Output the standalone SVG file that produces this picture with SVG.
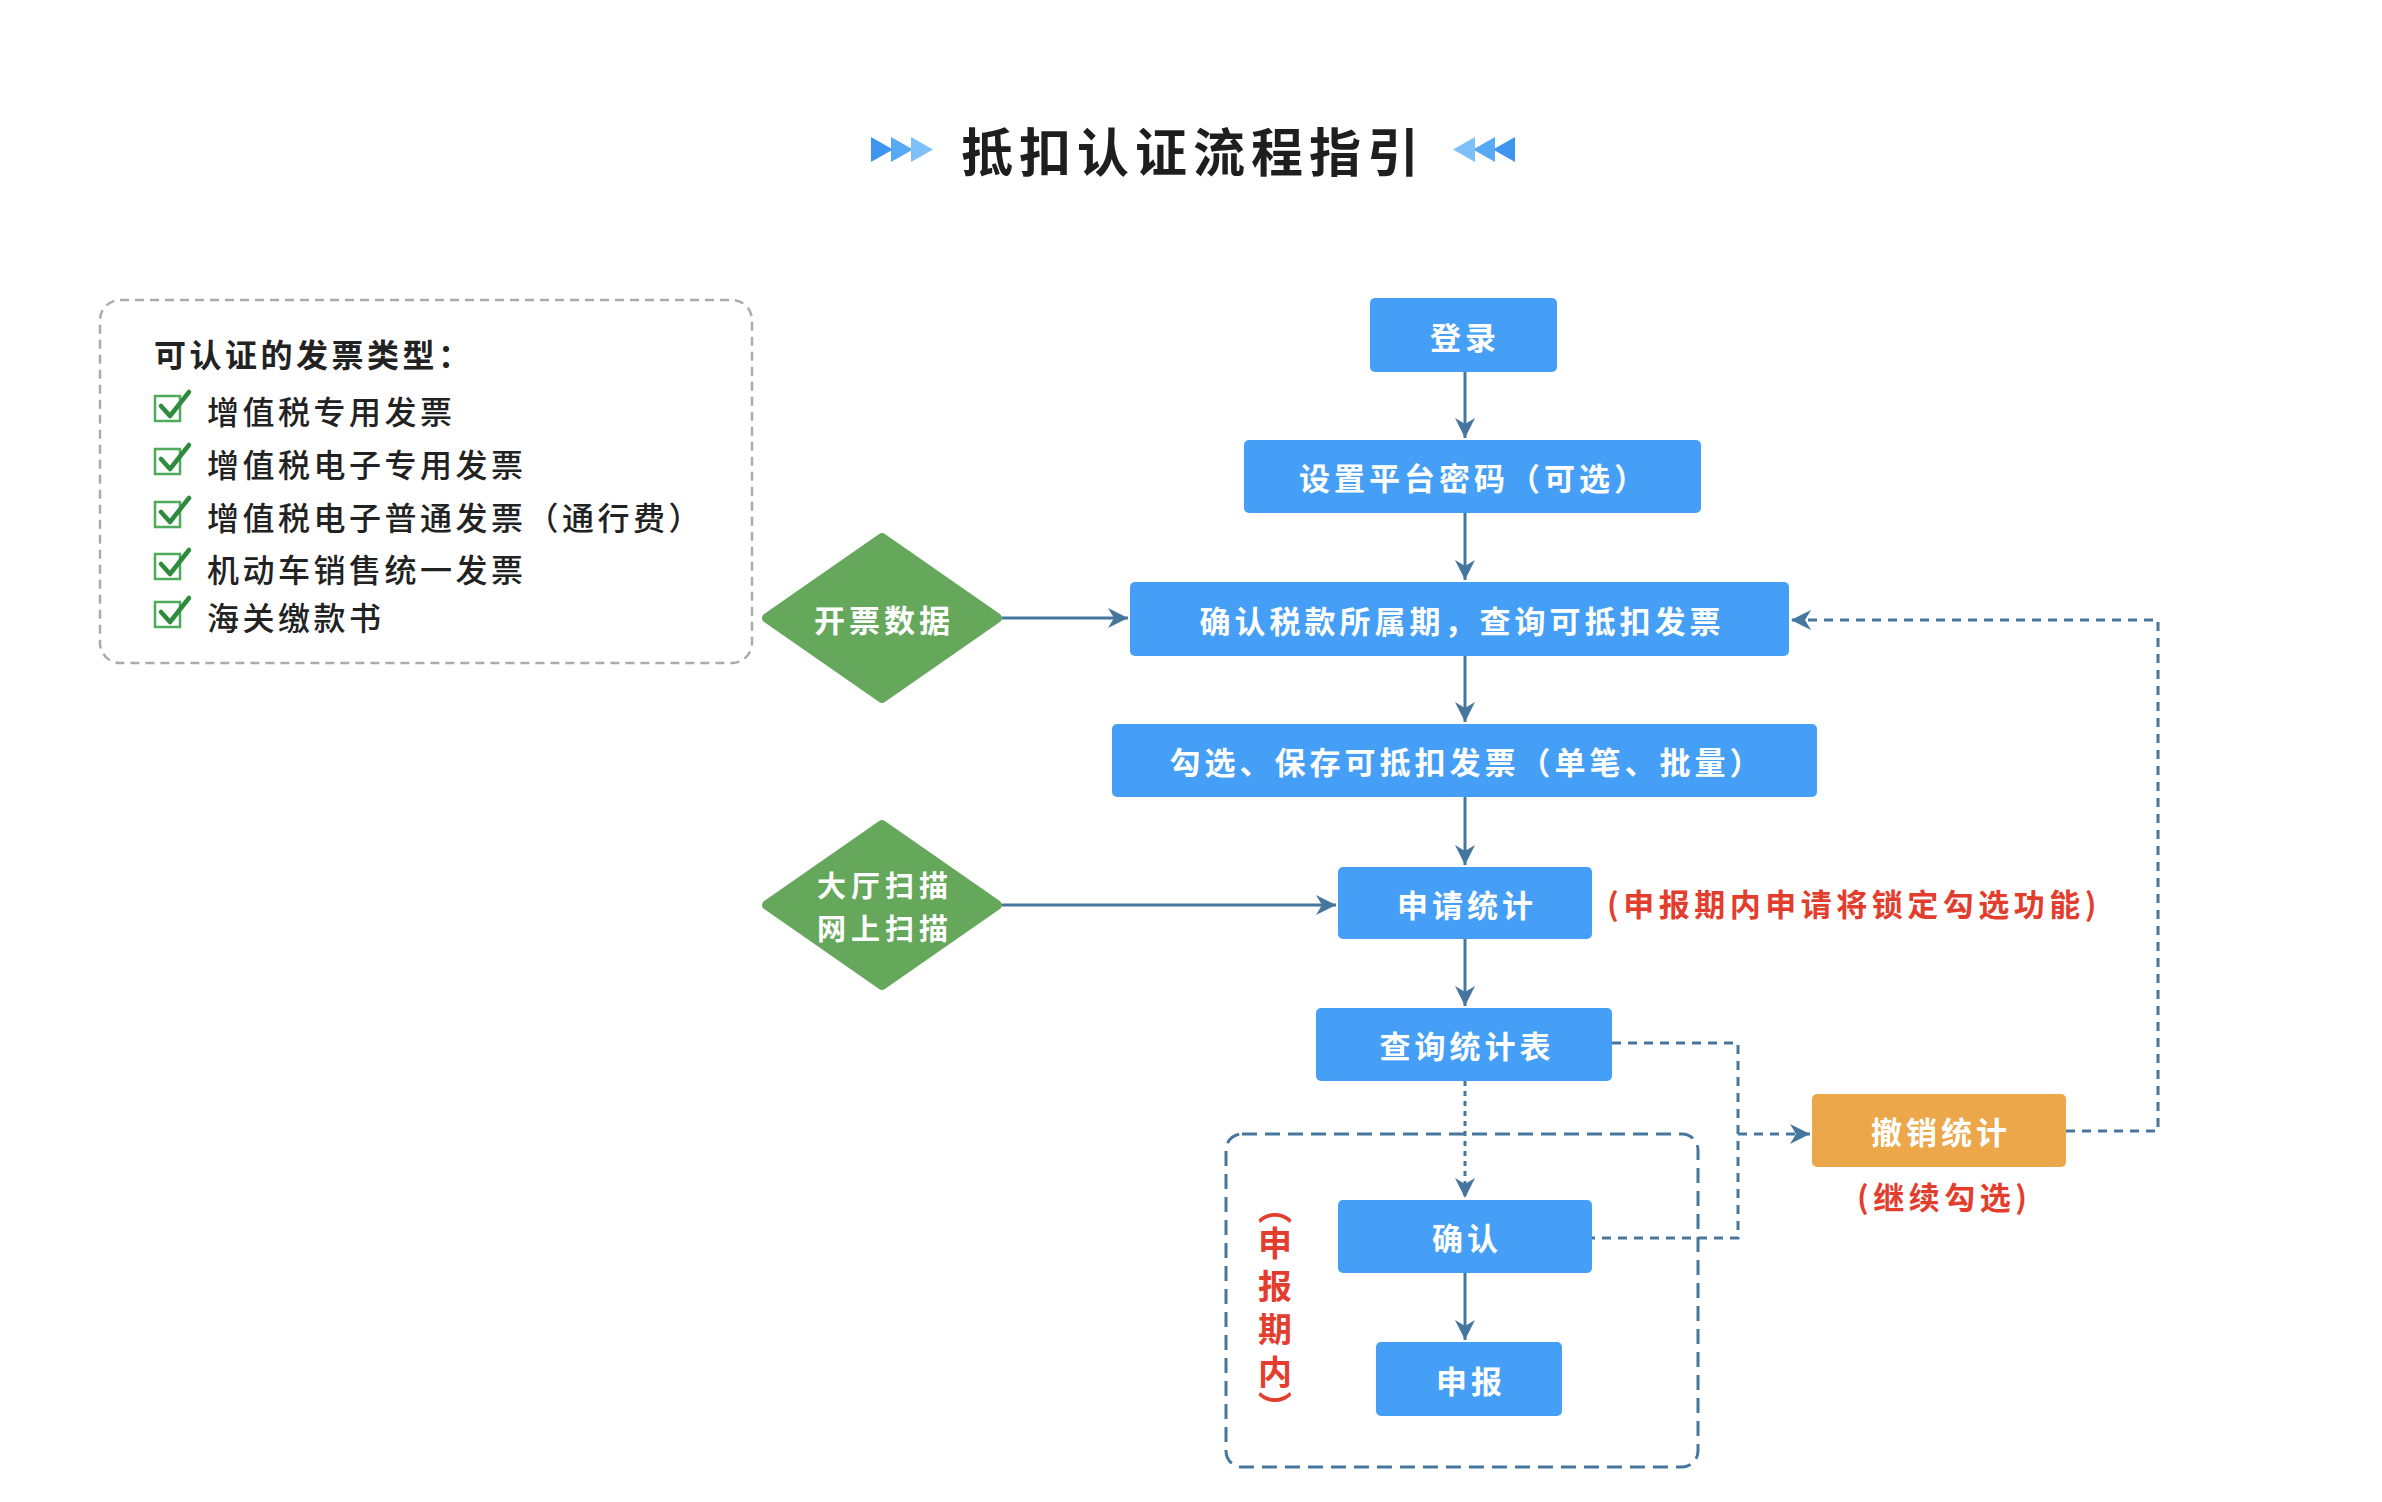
<svg xmlns="http://www.w3.org/2000/svg" width="2382" height="1502" viewBox="0 0 2382 1502">
<style>
text{font-family:"Noto Sans CJK SC","Noto Sans",sans-serif;dominant-baseline:central}
.title{font-size:52px;font-weight:700;fill:#1e1e1e;letter-spacing:6px}
.lh{font-size:32px;font-weight:700;fill:#222;letter-spacing:3.5px}
.li{font-size:32px;font-weight:500;fill:#222;letter-spacing:3.5px}
.box{fill:#469ff6}
.orange{fill:#eca74b}
.dia{fill:#65a85c;stroke:#65a85c;stroke-width:10;stroke-linejoin:round}
.bt{font-size:31px;font-weight:700;fill:#fff;letter-spacing:4px;text-anchor:middle}
.dt{font-size:29px;font-weight:700;fill:#fff;letter-spacing:5px;text-anchor:middle}
.red{font-size:31px;font-weight:700;fill:#e33d2e;letter-spacing:4.5px}
.vred{font-size:34px;font-weight:700;fill:#e33d2e;writing-mode:vertical-rl;letter-spacing:9px}
.solid{fill:none;stroke:#46769e;stroke-width:3}
.dash{fill:none;stroke:#46769e;stroke-width:3;stroke-dasharray:9 7}
.dot{fill:none;stroke:#46769e;stroke-width:3;stroke-dasharray:5 5}
.cb{fill:none;stroke:#4dab5a;stroke-width:2.5}
.ck{fill:none;stroke:#2e8b3e;stroke-width:4.5;stroke-linecap:round;stroke-linejoin:round}
</style>
<defs>
<marker id="arr" markerUnits="userSpaceOnUse" markerWidth="22" markerHeight="20" refX="20" refY="10" orient="auto">
<path d="M0,0 L20,10 L0,20 L6,10 Z" fill="#46769e"/>
</marker>
</defs>
<rect width="2382" height="1502" fill="#fff"/>

<g id="title">
<path d="M871,137 L893,149.5 L871,162 Z" fill="#3d95f0"/>
<path d="M891,137 L913,149.5 L891,162 Z" fill="#58a9f5"/>
<path d="M911,137 L933,149.5 L911,162 Z" fill="#7dc0f8"/>
<text class="title" x="961" y="149">抵扣认证流程指引</text>
<path d="M1515,137 L1493,149.5 L1515,162 Z" fill="#3d95f0"/>
<path d="M1495,137 L1473,149.5 L1495,162 Z" fill="#58a9f5"/>
<path d="M1475,137 L1453,149.5 L1475,162 Z" fill="#7dc0f8"/>
</g>

<g id="legend">
<rect x="100" y="300" width="652" height="363" rx="20" fill="none" stroke="#ababab" stroke-width="2.5" stroke-dasharray="9 6"/>
<text class="lh" x="154" y="353">可认证的发票类型：</text>
<g>
<rect class="cb" x="155" y="396" width="25" height="25"/><path class="ck" d="M161,406 L170,416 L189,392"/>
<text class="li" x="207" y="410">增值税专用发票</text>
</g>
<g>
<rect class="cb" x="155" y="449" width="25" height="25"/><path class="ck" d="M161,459 L170,469 L189,445"/>
<text class="li" x="207" y="463">增值税电子专用发票</text>
</g>
<g>
<rect class="cb" x="155" y="502" width="25" height="25"/><path class="ck" d="M161,512 L170,522 L189,498"/>
<text class="li" x="207" y="516">增值税电子普通发票（通行费）</text>
</g>
<g>
<rect class="cb" x="155" y="554" width="25" height="25"/><path class="ck" d="M161,564 L170,574 L189,550"/>
<text class="li" x="207" y="568">机动车销售统一发票</text>
</g>
<g>
<rect class="cb" x="155" y="602" width="25" height="25"/><path class="ck" d="M161,612 L170,622 L189,598"/>
<text class="li" x="207" y="616">海关缴款书</text>
</g>
</g>

<g id="period-group">
<rect x="1226" y="1134" width="472" height="333" rx="16" fill="none" stroke="#46769e" stroke-width="3" stroke-dasharray="15 8"/>
<text class="vred" x="1275" y="1190"><tspan style="letter-spacing:2px">（</tspan>申报期<tspan style="letter-spacing:2px">内</tspan>）</text>
</g>

<g id="connectors">
<path class="solid" d="M1465,372 V438" marker-end="url(#arr)"/>
<path class="solid" d="M1465,513 V580" marker-end="url(#arr)"/>
<path class="solid" d="M1465,656 V722" marker-end="url(#arr)"/>
<path class="solid" d="M1465,797 V865" marker-end="url(#arr)"/>
<path class="solid" d="M1465,939 V1006" marker-end="url(#arr)"/>
<path class="dot" d="M1465,1081 V1198" marker-end="url(#arr)"/>
<path class="solid" d="M1465,1273 V1340" marker-end="url(#arr)"/>
<path class="solid" d="M1002,618 H1128" marker-end="url(#arr)"/>
<path class="solid" d="M1002,905 H1336" marker-end="url(#arr)"/>
<path class="dash" d="M1612,1043 H1738 V1238 H1592"/>
<path class="dash" d="M1738,1134 H1810" marker-end="url(#arr)"/>
<path class="dash" d="M2066,1131 H2158 V620 H1791" marker-end="url(#arr)"/>
</g>

<g id="n-login"><rect class="box" x="1370" y="298" width="187" height="74" rx="5"/><text class="bt" x="1465" y="335">登录</text></g>
<g id="n-password"><rect class="box" x="1244" y="440" width="457" height="73" rx="5"/><text class="bt" x="1474" y="476">设置平台密码（可选）</text></g>
<g id="n-confirm-period"><rect class="box" x="1130" y="582" width="659" height="74" rx="5"/><text class="bt" x="1462" y="619">确认税款所属期，查询可抵扣发票</text></g>
<g id="n-select"><rect class="box" x="1112" y="724" width="705" height="73" rx="5"/><text class="bt" x="1467" y="760">勾选、保存可抵扣发票（单笔、批量）</text></g>
<g id="n-apply"><rect class="box" x="1338" y="867" width="254" height="72" rx="5"/><text class="bt" x="1467" y="903">申请统计</text></g>
<g id="n-query"><rect class="box" x="1316" y="1008" width="296" height="73" rx="5"/><text class="bt" x="1467" y="1044">查询统计表</text></g>
<g id="n-confirm"><rect class="box" x="1338" y="1200" width="254" height="73" rx="5"/><text class="bt" x="1467" y="1236">确认</text></g>
<g id="n-declare"><rect class="box" x="1376" y="1342" width="186" height="74" rx="5"/><text class="bt" x="1471" y="1379">申报</text></g>
<g id="n-revoke"><rect class="orange" x="1812" y="1094" width="254" height="73" rx="5"/><text class="bt" x="1941" y="1130">撤销统计</text></g>
<g id="n-invoice-data"><polygon class="dia" points="882,538 997,618 882,698 767,618"/><text class="bt" x="884" y="618">开票数据</text></g>
<g id="n-scan"><polygon class="dia" points="882,825 997,905 882,985 767,905"/><text class="dt"><tspan x="885" y="884">大厅扫描</tspan><tspan x="885" y="927">网上扫描</tspan></text></g>

<g id="notes">
<text class="red" x="1607" y="902">(申报期内申请将锁定勾选功能)</text>
<text class="red" x="1857" y="1195">(继续勾选)</text>
</g>
</svg>
